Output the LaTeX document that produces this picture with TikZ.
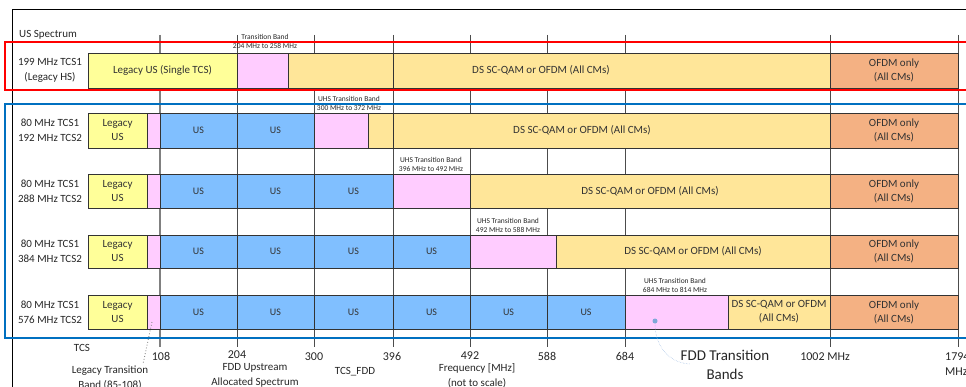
\documentclass[tikz,border=0pt]{standalone}
\usepackage{fontspec}
\setmainfont{Carlito}
\definecolor{legacy}{HTML}{FFFF99}
\definecolor{trans}{HTML}{FFCCFF}
\definecolor{dsband}{HTML}{FFE699}
\definecolor{usband}{HTML}{80BFFF}
\definecolor{ofdm}{HTML}{F4B183}
\definecolor{tcsred}{HTML}{FF0000}
\definecolor{tcsblue}{HTML}{0070C0}
\definecolor{dotblue}{HTML}{7FA8D8}

\tikzset{
  cell/.style={draw=black!80, line width=0.7pt},
  grid/.style={draw=black!70, line width=0.7pt},
  lbl/.style={font=\fontsize{11}{14}\selectfont, align=center, text=black!80, inner sep=0pt},
  tcslbl/.style={font=\fontsize{11}{15}\selectfont, align=center, text=black!85, inner sep=0pt},
  tiny/.style={font=\fontsize{7.5}{9}\selectfont, align=center, text=black!85, inner sep=0pt},
  tick/.style={font=\fontsize{12}{15}\selectfont, align=center, text=black!85, inner sep=0pt},
  leader/.style={draw=black!45, line width=0.9pt, dotted},
}

% x1 x2 y1 y2 fill name text
\newcommand\band[7]{%
  \draw[cell, fill=#5] (#1,#3) rectangle (#2,#4);
  \node[lbl] (#6) at ({(#1+#2)/2},{(#3+#4)/2}) {#7};}
\newcommand\ustext{\fontsize{10}{12}\selectfont US}

\begin{document}
\begin{tikzpicture}[x=1pt,y=-1pt]
  \useasboundingbox (0,0) rectangle (966,387);
  \clip (0,0) rectangle (966,387);

  % frame and frequency grid
  \draw[black, line width=0.7pt] (12,390) -- (12,9) -- (970,9);
  \draw[draw=black!50, line width=1.1pt] (160,35) -- (160,347);
  \draw[grid] (237,35) -- (237,347);
  \draw[grid] (314,35) -- (314,347);
  \draw[grid] (393,35) -- (393,347);
  \draw[grid] (470,35) -- (470,347);
  \draw[grid] (547,35) -- (547,347);
  \draw[grid] (625,35) -- (625,347);
  \draw[grid] (830,35) -- (830,347);
  \draw[grid] (958,35) -- (958,347);

  \node[tcslbl, anchor=west] (usspec) at (19,35) {US Spectrum};

  % 199 MHz TCS1
  \node[tcslbl] (tcs1) at (50,70.5) {199 MHz TCS1\\(Legacy HS)};
  \band{88}{237}{53}{88}{legacy}{lus1}{Legacy US (Single TCS)}
  \band{237}{288}{53}{88}{trans}{tb1}{}
  \band{288}{393}{53}{88}{dsband}{dsa1}{}
  \band{393}{830}{53}{88}{dsband}{dsb1}{}
  \band{830}{958}{53}{88}{ofdm}{of1}{OFDM only\\(All CMs)}
  \node[lbl] (ds1) at (541,70.5) {DS SC-QAM or OFDM (All CMs)};
  \node[tiny] (tbl1) at (265,41) {Transition Band\\204 MHz to 258 MHz};

  % 80 / 192
  \node[tcslbl] (tcs2) at (50,130.5) {80 MHz TCS1\\192 MHz TCS2};
  \band{88}{147}{113}{148}{legacy}{lus2}{Legacy\\US}
  \band{147}{160}{113}{148}{trans}{ltb2}{}
  \band{160}{237}{113}{148}{usband}{usa2}{\ustext}
  \band{237}{314}{113}{148}{usband}{usb2}{\ustext}
  \band{314}{368}{113}{148}{trans}{tb2}{}
  \band{368}{393}{113}{148}{dsband}{dsa2}{}
  \band{393}{830}{113}{148}{dsband}{dsb2}{}
  \band{830}{958}{113}{148}{ofdm}{of2}{OFDM only\\(All CMs)}
  \node[lbl] (ds2) at (582,130.5) {DS SC-QAM or OFDM (All CMs)};
  \node[tiny] (tbl2) at (349,103.5) {UHS Transition Band\\300 MHz to 372 MHz};

  % 80 / 288
  \node[tcslbl] (tcs3) at (50,191) {80 MHz TCS1\\288 MHz TCS2};
  \band{88}{147}{174}{208}{legacy}{lus3}{Legacy\\US}
  \band{147}{160}{174}{208}{trans}{ltb3}{}
  \band{160}{237}{174}{208}{usband}{usa3}{\ustext}
  \band{237}{314}{174}{208}{usband}{usb3}{\ustext}
  \band{314}{393}{174}{208}{usband}{usc3}{\ustext}
  \band{393}{470}{174}{208}{trans}{tb3}{}
  \band{470}{830}{174}{208}{dsband}{ds3}{DS SC-QAM or OFDM (All CMs)}
  \band{830}{958}{174}{208}{ofdm}{of3}{OFDM only\\(All CMs)}
  \node[tiny] (tbl3) at (431,164.5) {UHS Transition Band\\396 MHz to 492 MHz};

  % 80 / 384
  \node[tcslbl] (tcs4) at (50,251.5) {80 MHz TCS1\\384 MHz TCS2};
  \band{88}{147}{235}{268}{legacy}{lus4}{Legacy\\US}
  \band{147}{160}{235}{268}{trans}{ltb4}{}
  \band{160}{237}{235}{268}{usband}{usa4}{\ustext}
  \band{237}{314}{235}{268}{usband}{usb4}{\ustext}
  \band{314}{393}{235}{268}{usband}{usc4}{\ustext}
  \band{393}{470}{235}{268}{usband}{usd4}{\ustext}
  \band{470}{556}{235}{268}{trans}{tb4}{}
  \band{556}{830}{235}{268}{dsband}{ds4}{DS SC-QAM or OFDM (All CMs)}
  \band{830}{958}{235}{268}{ofdm}{of4}{OFDM only\\(All CMs)}
  \node[tiny] (tbl4) at (508,225.5) {UHS Transition Band\\492 MHz to 588 MHz};

  % 80 / 576
  \node[tcslbl] (tcs5) at (50,312.5) {80 MHz TCS1\\576 MHz TCS2};
  \band{88}{147}{295}{329}{legacy}{lus5}{Legacy\\US}
  \band{147}{160}{295}{329}{trans}{ltb5}{}
  \band{160}{237}{295}{329}{usband}{usa5}{\ustext}
  \band{237}{314}{295}{329}{usband}{usb5}{\ustext}
  \band{314}{393}{295}{329}{usband}{usc5}{\ustext}
  \band{393}{470}{295}{329}{usband}{usd5}{\ustext}
  \band{470}{547}{295}{329}{usband}{use5}{\ustext}
  \band{547}{625}{295}{329}{usband}{usf5}{\ustext}
  \band{625}{728}{295}{329}{trans}{tb5}{}
  \band{728}{830}{295}{329}{dsband}{ds5}{DS SC-QAM or OFDM\\(All CMs)}
  \band{830}{958}{295}{329}{ofdm}{of5}{OFDM only\\(All CMs)}
  \node[tiny] (tbl5) at (675,285.5) {UHS Transition Band\\684 MHz to 814 MHz};

  % TCS groups
  \draw[tcsred, line width=1.6pt] (5,42) rectangle (980,90);
  \draw[tcsblue, line width=1.6pt] (5,104) rectangle (980,338);

  % frequency axis
  \node[tcslbl] (tcsaxis) at (82,348) {TCS};
  \node[tick] (f108) at (161,356) {108};
  \node[tick] (f204) at (237,354.5) {204};
  \node[tick] (f300) at (314,357) {300};
  \node[tick] (f396) at (392,356) {396};
  \node[tick] (f492) at (470,356) {492};
  \node[tick] (f588) at (547,356) {588};
  \node[tick] (f684) at (625,356) {684};
  \node[tick] (f1002) at (825,357) {1002 MHz};
  \node[tick, anchor=west, align=left] (f1794) at (945,364.5) {1794\\MHz};

  \node[tcslbl] (ltlbl) at (110,378) {Legacy Transition\\Band (85-108)};
  \node[tcslbl] (fddup) at (255,375) {FDD Upstream\\Allocated Spectrum};
  \node[tcslbl] (tcsfdd) at (355,372) {TCS\_FDD};
  \node[tcslbl] (freq) at (477,375.5) {Frequency [MHz]\\(not to scale)};
  \node[font=\fontsize{15}{19}\selectfont, align=center, text=black!85, inner sep=0pt]
    (fddtb) at (725,364.5) {FDD Transition\\Bands};

  % leaders
  \coordinate (ltdot) at (152,322);
  \coordinate (ltend) at (143,364);
  \draw[leader] (ltdot) -- (ltend);
  \node[circle, fill=dotblue, inner sep=0pt, minimum size=5pt] (fdot) at (655,321) {};
  \coordinate (fddend) at (690,364);
  \draw[draw=dotblue!80, line width=0.5pt, densely dotted] (fdot) .. controls (655,345) and (668,363) .. (fddend);
\end{tikzpicture}
\end{document}
